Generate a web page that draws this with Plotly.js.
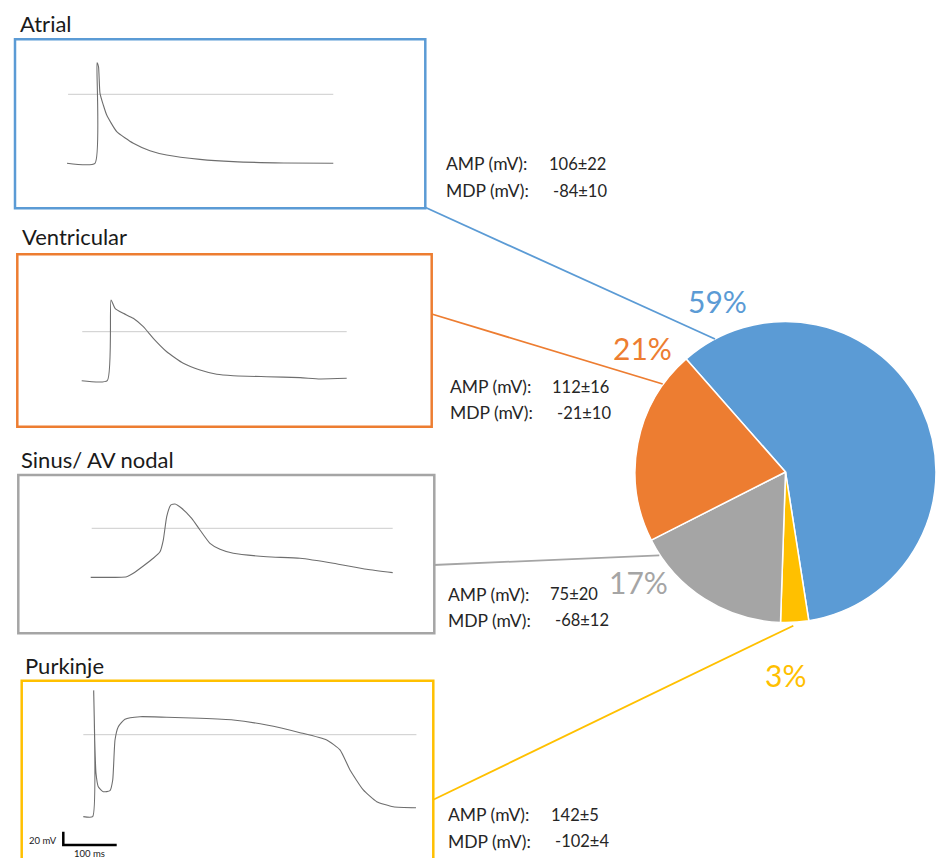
<!DOCTYPE html>
<html><head><meta charset="utf-8">
<script src="https://cdn.plot.ly/plotly-3.0.1.min.js"></script>
<style>html,body{margin:0;padding:0;background:#fff}</style>
</head><body><div id="chart" style="width:936px;height:858px"></div>
<script>
const W = 936, H = 858;

// ---- Pie data (clockwise order starting at the Atrial slice) ----
const pieLabels = ['Atrial', 'Purkinje', 'Sinus/ AV nodal', 'Ventricular'];
const pieValues = [59, 3, 17, 21];
const pieColors = ['#5B9BD5', '#FFC000', '#A5A5A5', '#ED7D31'];

// ---- Panel titles and statistics ----
const panelNames = ['Atrial', 'Ventricular', 'Sinus/ AV nodal', 'Purkinje'];
const panelColors = ['#5B9BD5', '#ED7D31', '#A5A5A5', '#FFC000'];
const ampValues = ['106±22', '112±16', '75±20', '142±5'];
const mdpValues = ['-84±10', '-21±10', '-68±12', '-102±4'];

// ---- Action potential traces (time ms, membrane potential mV) ----
const atrialT = [0, 52.5, 56.3, 59.1, 61.9, 68.1, 74.5, 93.3, 124.4, 155.6, 186.9, 249.4, 312, 406, 499.6];
const atrialV = [-84, -84, 38.5, 33.6, 1.2, -13, -25.2, -45.5, -59.7, -68.7, -73.9, -79.2, -82, -83.6, -84];

const ventT = [0, 48, 55, 62.5, 78, 96.8, 115.6, 134.3, 159.5, 190.6, 222, 253.3, 284.4, 347, 409.6, 447, 497.2];
const ventV = [-68, -68, 44, 32.5, 25.5, 18.6, 6.9, -9.2, -27.8, -43.9, -53.2, -59.1, -61.1, -62.5, -63.8, -65.6, -64.7];

const sinusT = [0, 67.5, 79.9, 98.7, 117.4, 130, 136.2, 142.6, 150.1, 158.2, 170.7, 189.5, 205, 223.8, 242.6, 267.5, 330.2, 392.7, 455.2, 517.8, 566.6];
const sinusV = [-50.2, -49.5, -46.1, -38.6, -30.7, -24, -12, 11.9, 23.8, 24.9, 20.5, 10.2, -1.7, -15.4, -21.5, -25.6, -29.1, -30.7, -35.8, -42, -45.4];

const purkT = [0, 17.6, 19.5, 21.4, 23.8, 28.1, 37.5, 50.1, 55.2, 59.5, 65.7, 78.2, 106.4, 156.5, 218.9, 281.4, 344.1, 406.6, 456.7, 481.6, 500.4, 525.3, 550.5, 581.6, 624.2];
const purkV = [-92.4, -92.4, 49.6, -6, -43.5, -58.6, -64.3, -63.1, -51.1, -6, 9, 17.4, 20.3, 19.6, 18.5, 16.6, 10.9, 2.3, -6, -17.2, -39.8, -62.3, -75.5, -81.2, -82.3];

// zero-mV reference lines (start/end time)
const zeroT = [[2, 499.6], [1, 497.2], [1.9, 566.6], [0, 625]];

const traceT = [atrialT, ventT, sinusT, purkT];
const traceV = [atrialV, ventV, sinusV, purkV];

// ---- Layout geometry (pixels) ----
const boxes = [
  {L: 15, T: 39.3, R: 425.3, B: 208.3, x0: 67, zeroY: 94.3, sy: 0.8214},
  {L: 17.3, T: 254.3, R: 431.7, B: 426.7, x0: 81.7, zeroY: 331.7, sy: 0.7205},
  {L: 18.3, T: 475, R: 434.3, B: 633.3, x0: 90.7, zeroY: 528.3, sy: 0.977},
  {L: 21.7, T: 680.7, R: 433.3, B: 875, x0: 83.3, zeroY: 734.7, sy: 0.887}
];
const sx = 0.533; // px per ms
const titlePos = [[18, 23], [20, 236.5], [19, 459.5], [23, 665.5]];
const statPos = [
  {lx: 444, ax: 547.3, mx: 550.7, ay: 164, my: 190.5},
  {lx: 448.3, ax: 550, mx: 555, ay: 386.5, my: 412.5},
  {lx: 446, ax: 548.3, mx: 552.7, ay: 594, my: 620},
  {lx: 446, ax: 549.3, mx: 553.3, ay: 814.5, my: 841}
];
const connectors = [
  [425, 207.3, 715, 339],
  [431.7, 314, 662.7, 384],
  [433.3, 565, 659.3, 555.3],
  [432.7, 800, 793.3, 625.7]
];
const pctPos = [[717.5, 301], [785.5, 675], [638, 582], [642.5, 348]]; // order of pieValues

const px = v => v / W;
const py = v => 1 - v / H;
const FONT = 'Lato, "Open Sans", sans-serif';

const data = [];
const layout = {
  width: W, height: H,
  margin: {l: 0, r: 0, t: 0, b: 0},
  paper_bgcolor: '#ffffff', plot_bgcolor: 'rgba(0,0,0,0)',
  showlegend: false, hovermode: false,
  annotations: [], shapes: []
};

boxes.forEach((b, i) => {
  const xa = i === 0 ? 'x' : 'x' + (i + 1);
  const ya = i === 0 ? 'y' : 'y' + (i + 1);
  const xk = i === 0 ? 'xaxis' : 'xaxis' + (i + 1);
  const yk = i === 0 ? 'yaxis' : 'yaxis' + (i + 1);
  const Bc = Math.min(b.B, H);
  layout[xk] = {domain: [px(b.L), px(b.R)], range: [(b.L - b.x0) / sx, (b.R - b.x0) / sx],
    visible: false, anchor: ya, fixedrange: true};
  layout[yk] = {domain: [py(Bc), py(b.T)], range: [(b.zeroY - Bc) / b.sy, (b.zeroY - b.T) / b.sy],
    visible: false, anchor: xa, fixedrange: true};
  // zero line
  data.push({type: 'scatter', mode: 'lines', x: zeroT[i], y: [0, 0], xaxis: xa, yaxis: ya,
    line: {color: '#cccccc', width: 1}, hoverinfo: 'skip'});
  // action potential
  data.push({type: 'scatter', mode: 'lines', x: traceT[i], y: traceV[i], xaxis: xa, yaxis: ya,
    line: {color: '#6e6e6e', width: 1.1, shape: 'spline', smoothing: 0.5}, hoverinfo: 'skip'});
  // box border
  layout.shapes.push({type: 'rect', xref: 'paper', yref: 'paper',
    x0: px(b.L), x1: px(b.R), y0: py(b.B), y1: py(b.T),
    line: {color: panelColors[i], width: 2.5}, fillcolor: 'rgba(0,0,0,0)'});
  // connector
  const c = connectors[i];
  layout.shapes.push({type: 'line', xref: 'paper', yref: 'paper',
    x0: px(c[0]), y0: py(c[1]), x1: px(c[2]), y1: py(c[3]),
    line: {color: panelColors[i], width: 1.8}});
  // title
  layout.annotations.push({xref: 'paper', yref: 'paper', x: px(titlePos[i][0]), y: py(titlePos[i][1]),
    xanchor: 'left', yanchor: 'middle', showarrow: false, text: panelNames[i],
    font: {family: FONT, size: 22, color: '#1a1a1a'}});
  // stats
  const s = statPos[i];
  const lf = {family: FONT, size: 17.5, color: '#262626'};
  const vf = {family: FONT, size: 16.5, color: '#262626'};
  layout.annotations.push({xref: 'paper', yref: 'paper', x: px(s.lx), y: py(s.ay), xanchor: 'left', yanchor: 'middle', showarrow: false, text: 'AMP (mV):', font: lf});
  layout.annotations.push({xref: 'paper', yref: 'paper', x: px(s.lx), y: py(s.my), xanchor: 'left', yanchor: 'middle', showarrow: false, text: 'MDP (mV):', font: lf});
  layout.annotations.push({xref: 'paper', yref: 'paper', x: px(s.ax), y: py(s.ay), xanchor: 'left', yanchor: 'middle', showarrow: false, text: ampValues[i], font: vf});
  layout.annotations.push({xref: 'paper', yref: 'paper', x: px(s.mx), y: py(s.my), xanchor: 'left', yanchor: 'middle', showarrow: false, text: mdpValues[i], font: vf});
});

// pie
data.push({type: 'pie', labels: pieLabels, values: pieValues, sort: false,
  direction: 'clockwise', rotation: -41.3,
  marker: {colors: pieColors, line: {color: '#ffffff', width: 1.5}},
  textinfo: 'none', hoverinfo: 'skip',
  domain: {x: [px(635), 1], y: [py(623), py(321)]}});

pieValues.forEach((v, i) => {
  layout.annotations.push({xref: 'paper', yref: 'paper', x: px(pctPos[i][0]), y: py(pctPos[i][1]),
    xanchor: 'center', yanchor: 'middle', showarrow: false, text: v + '%',
    font: {family: FONT, size: 30, color: pieColors[i]}});
});

// scale bar
layout.shapes.push({type: 'path', xref: 'paper', yref: 'paper',
  path: `M ${px(63.3)} ${py(831.7)} L ${px(63.3)} ${py(845)} L ${px(116.7)} ${py(845)}`,
  line: {color: '#000000', width: 2.5}});
layout.annotations.push({xref: 'paper', yref: 'paper', x: px(59), y: py(840.5), xanchor: 'right', yanchor: 'middle',
  showarrow: false, text: '20 mV', font: {family: FONT, size: 9.5, color: '#1a1a1a'}});
layout.annotations.push({xref: 'paper', yref: 'paper', x: px(89), y: py(853), xanchor: 'center', yanchor: 'middle',
  showarrow: false, text: '100 ms', font: {family: FONT, size: 9.5, color: '#1a1a1a'}});

Plotly.newPlot('chart', data, layout, {displayModeBar: false, staticPlot: true});
</script></body></html>
